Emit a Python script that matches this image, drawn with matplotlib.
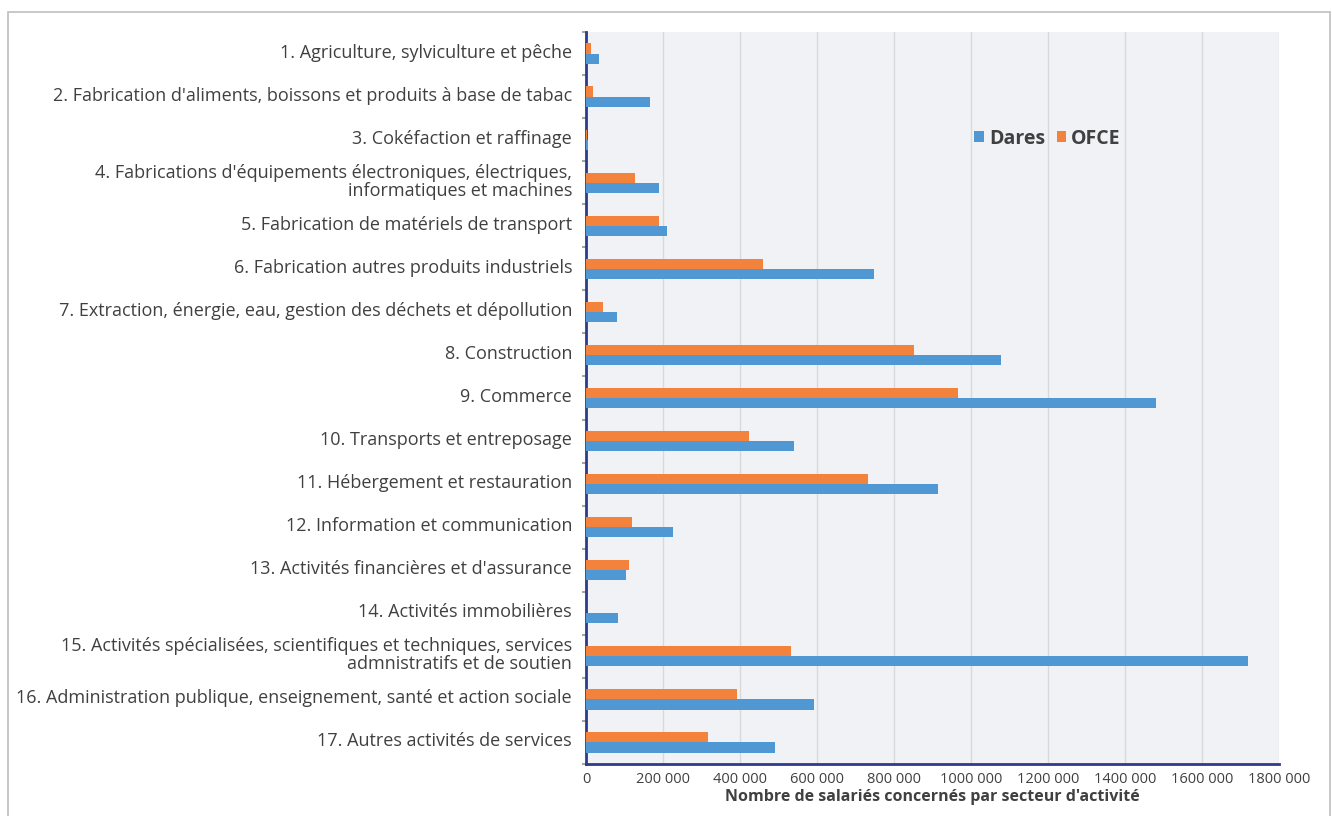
import matplotlib
matplotlib.use("Agg")
import matplotlib.pyplot as plt
from matplotlib.patches import Rectangle
from matplotlib.ticker import FuncFormatter, MultipleLocator
from matplotlib.transforms import ScaledTranslation
import numpy as np

plt.rcParams["font.family"] = ["Open Sans", "DejaVu Sans"]

sectors = [
    "1. Agriculture, sylviculture et pêche",
    "2. Fabrication d'aliments, boissons et produits à base de tabac",
    "3. Cokéfaction et raffinage",
    "4. Fabrications d'équipements électroniques, électriques,\ninformatiques et machines",
    "5. Fabrication de matériels de transport",
    "6. Fabrication autres produits industriels",
    "7. Extraction, énergie, eau, gestion des déchets et dépollution",
    "8. Construction",
    "9. Commerce",
    "10. Transports et entreposage",
    "11. Hébergement et restauration",
    "12. Information et communication",
    "13. Activités financières et d'assurance",
    "14. Activités immobilières",
    "15. Activités spécialisées, scientifiques et techniques, services\nadmnistratifs et de soutien",
    "16. Administration publique, enseignement, santé et action sociale",
    "17. Autres activités de services",
]
dares = [34000, 166000, 4000, 190000, 210000, 747000, 81000, 1077000, 1481000,
         541000, 915000, 225000, 104000, 84000, 1720000, 591000, 490000]
ofce = [14000, 18000, 3000, 127000, 190000, 459000, 45000, 853000, 966000,
        423000, 732000, 119000, 112000, 0, 532000, 392000, 318000]

BLUE = "#5098D4"
ORANGE = "#F2823C"
TXT = "#404040"


def fmt(v, pos):
    if v == 0:
        return "0"
    s = f"{int(v):,}".replace(",", " ")
    if v >= 1000000:
        s = s.replace(" ", "", 1)   # "1000 000" like the source
    return s


fig = plt.figure(figsize=(13.32, 8.16), dpi=100)
ax = fig.add_axes([586 / 1332, 1 - 764 / 816, (1279 - 586) / 1332, (764 - 32) / 816])
fig.patches.append(Rectangle((8 / 1332, -0.1), (1330 - 8) / 1332, 1.1 - 12 / 816,
                             transform=fig.transFigure, fill=False, ec="#bfbfbf", lw=1.2))

y = np.arange(len(sectors))
h = 0.235
ax.barh(y - h / 2, ofce, h, color=ORANGE, label="OFCE", zorder=3)
ax.barh(y + h / 2, dares, h, color=BLUE, label="Dares", zorder=3)

ax.set_facecolor("#F0F2F5")
ax.set_xlim(0, 1800000)
ax.set_ylim(len(sectors) - 0.5, -0.5)
ax.xaxis.set_major_locator(MultipleLocator(200000))
ax.xaxis.set_major_formatter(FuncFormatter(fmt))
ax.grid(axis="x", color="#d9d9d9", lw=1, zorder=0)
ax.tick_params(axis="x", length=0, labelsize=10.5, colors=TXT, pad=6)

ax.set_yticks(y)
ax.set_yticklabels(sectors, fontsize=13, color=TXT, ha="right", linespacing=1.0)
ax.tick_params(axis="y", which="major", length=0, pad=10)
for lab in ax.get_yticklabels():
    lab.set_transform(lab.get_transform() + ScaledTranslation(0, 0.03, fig.dpi_scale_trans))
# small gray ticks at category boundaries
ax.set_yticks(np.arange(len(sectors) + 1) - 0.5, minor=True)
ax.tick_params(axis="y", which="minor", length=3, color="#a6a6a6", width=1.5, direction="out")

for s in ("top", "right"):
    ax.spines[s].set_visible(False)
for s in ("left", "bottom"):
    ax.spines[s].set_color("#2E3A8C")
    ax.spines[s].set_linewidth(2)

ax.set_xlabel("Nombre de salariés concernés par secteur d'activité", fontsize=11.5,
              fontweight="bold", color=TXT, labelpad=1)

leg = ax.legend(handles=[ax.containers[1], ax.containers[0]], loc="upper left",
                bbox_to_anchor=(0.535, 0.892), ncol=2, frameon=False,
                handlelength=0.5, handleheight=0.5, handletextpad=0.25, columnspacing=0.6,
                prop={"weight": "bold", "size": 14})
for t in leg.get_texts():
    t.set_color(TXT)

fig.savefig("out.png", dpi=100)
